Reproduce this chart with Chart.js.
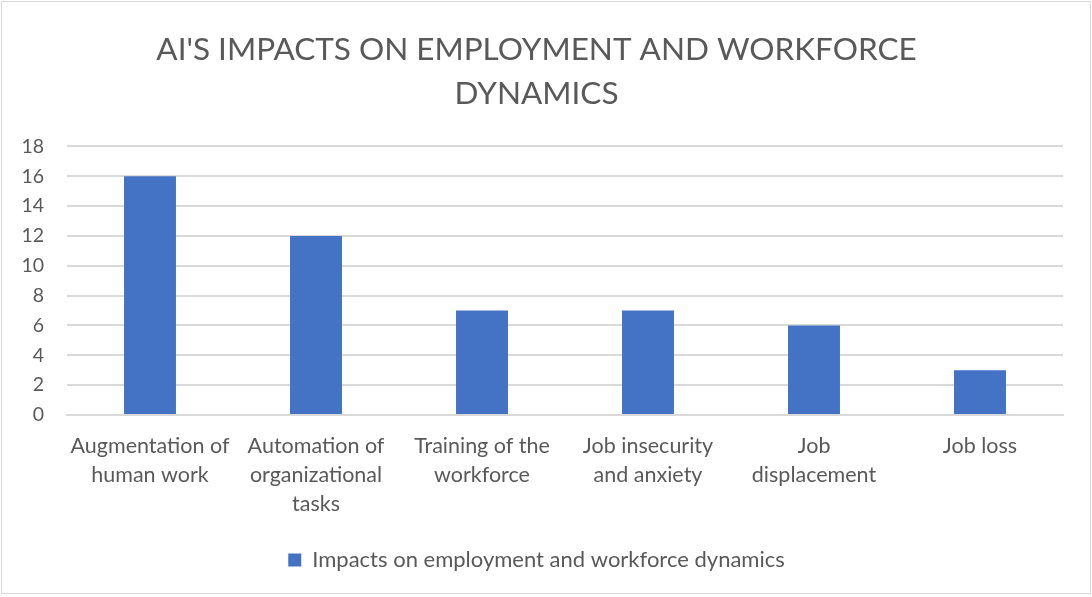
<!DOCTYPE html>
<html>
<head>
<meta charset="utf-8">
<title>AI's impacts on employment and workforce dynamics</title>
<script src="https://cdn.jsdelivr.net/npm/chart.js@4.4.0/dist/chart.umd.min.js"></script>
<style>
  html, body { margin: 0; padding: 0; background: #fff; }
  #wrap { position: relative; width: 1092px; height: 597px; }
</style>
</head>
<body>
<div id="wrap"><canvas id="impactChart"></canvas></div>
<script>
// categories (multi-line as shown under the axis)
const categories = [
  ['Augmentation of', 'human work'],
  ['Automation of', 'organizational', 'tasks'],
  ['Training of the', 'workforce'],
  ['Job insecurity', 'and anxiety'],
  ['Job', 'displacement'],
  ['Job loss']
];
const impactCounts = [16, 12, 7, 7, 6, 3];
const seriesName = 'Impacts on employment and workforce dynamics';
const titleLines = ["AI'S IMPACTS ON EMPLOYMENT AND WORKFORCE", 'DYNAMICS'];

const textColor = '#595959';
const gridColor = '#d9d9d9';
const barColor = '#4472c4';
const fontFamily = 'Lato, "Open Sans", sans-serif';

// light outline around the whole chart area
const frame = {
  id: 'frame',
  afterDraw(chart) {
    const c = chart.ctx;
    c.save();
    c.strokeStyle = gridColor;
    c.lineWidth = 1;
    c.strokeRect(1.5, 1.5, chart.width - 3, chart.height - 5);
    c.restore();
  }
};

new Chart(document.getElementById('impactChart'), {
  type: 'bar',
  data: {
    labels: categories,
    datasets: [{
      label: seriesName,
      data: impactCounts,
      backgroundColor: barColor,
      borderWidth: 0,
      barPercentage: 1,
      categoryPercentage: 0.313
    }]
  },
  options: {
    responsive: true,
    maintainAspectRatio: false,
    animation: false,
    layout: { padding: { left: 10, right: 29, top: 18, bottom: 16 } },
    plugins: {
      title: {
        display: true,
        text: titleLines,
        color: textColor,
        font: { family: fontFamily, size: 31.5, weight: 'normal', lineHeight: 1.42 },
        padding: { top: 9, bottom: 30 }
      },
      legend: {
        position: 'bottom',
        labels: {
          color: textColor,
          font: { family: fontFamily, size: 22 },
          boxWidth: 13,
          boxHeight: 13,
          padding: 8
        }
      },
      tooltip: { enabled: false }
    },
    scales: {
      x: {
        grid: { display: false, drawTicks: false },
        border: { color: gridColor, width: 2 },
        ticks: {
          color: textColor,
          font: { family: fontFamily, size: 21.5, lineHeight: 1.35 },
          padding: 17,
          maxRotation: 0,
          autoSkip: false
        },
        // extra room below the category labels, above the legend
        afterFit(scale) { scale.height += 5; }
      },
      y: {
        min: 0,
        max: 18,
        grid: { color: gridColor, lineWidth: 2, drawTicks: false },
        border: { display: false },
        ticks: {
          stepSize: 2,
          color: textColor,
          font: { family: fontFamily, size: 19.5 },
          padding: 23
        },
        afterFit(scale) { scale.width = 57; }
      }
    }
  },
  plugins: [frame]
});
</script>
</body>
</html>
